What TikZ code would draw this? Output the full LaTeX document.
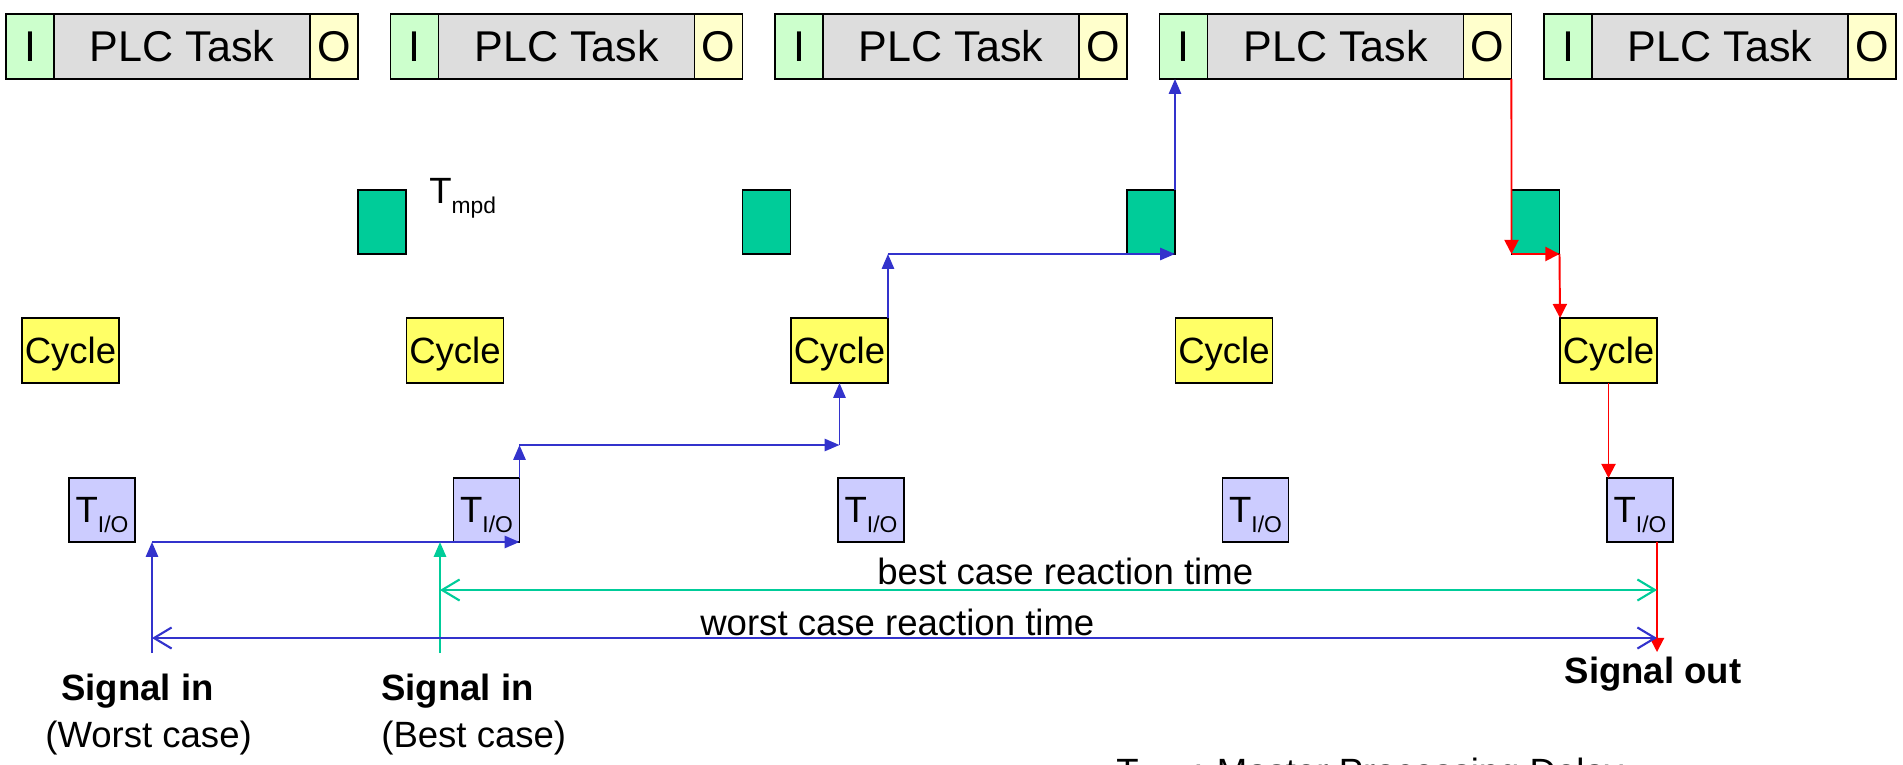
\documentclass[tikz,border=0pt]{standalone}
\usepackage{fontspec}
\setmainfont{Liberation Sans}
\usetikzlibrary{arrows.meta,positioning}

\definecolor{incell}{HTML}{CCFFCC}
\definecolor{taskgray}{HTML}{DDDDDD}
\definecolor{outcell}{HTML}{FFFFCC}
\definecolor{mpdgreen}{HTML}{00CC99}
\definecolor{cycyellow}{HTML}{FFFF66}
\definecolor{tiolav}{HTML}{CCCCFF}
\definecolor{pathblue}{HTML}{3333CC}
\definecolor{pathred}{HTML}{FF0000}
\definecolor{bestteal}{HTML}{00CC99}

% lowered small text for the T_I/O and T_mpd subscripts
\newcommand\tsub[1]{\raisebox{-5.7pt}{\fontsize{13}{14}\selectfont #1}}

\begin{document}
\begin{tikzpicture}[
  x=0.02cm, y=-0.02cm,
  cell/.style      = {draw, line width=0.9pt, inner sep=0pt, outer sep=0pt,
                      minimum height=1.30cm, font=\fontsize{24.5}{26}\selectfont},
  icell/.style     = {cell, fill=incell, minimum width=0.96cm},
  task/.style      = {cell, fill=taskgray, minimum width=5.12cm},
  ocell/.style     = {cell, fill=outcell, minimum width=0.96cm},
  box/.style       = {draw, line width=0.9pt, inner sep=0pt, outer sep=0pt,
                      anchor=north west, text depth=0pt,
                      font=\fontsize{20.8}{22}\selectfont},
  mpdbox/.style    = {box, fill=mpdgreen, minimum width=0.96cm, minimum height=1.28cm},
  cycbox/.style    = {box, fill=cycyellow, minimum width=1.94cm, minimum height=1.30cm},
  tiobox/.style    = {box, fill=tiolav, minimum width=1.32cm, minimum height=1.28cm},
  bluearr/.style   = {pathblue, line width=1.1pt, -{Triangle[length=8.5pt,width=7pt]}},
  redarr/.style    = {pathred, line width=1.1pt, -{Triangle[length=8pt,width=8pt]}},
  bestarr/.style   = {bestteal, line width=1.2pt, -{Triangle[length=8.5pt,width=7pt]}},
  reach/.style     = {line width=1.2pt,
                      {Straight Barb[length=10pt,width=12pt]}-{Straight Barb[length=10pt,width=12pt]}},
  lbl/.style       = {inner sep=0pt, font=\fontsize{20.8}{22}\selectfont},
  sig/.style       = {inner sep=0pt, font=\fontsize{20.8}{22}\selectfont\bfseries},
]
  \path[use as bounding box] (0,0) rectangle (1903,764);
  \clip (0,0) rectangle (1903,764);

  % five PLC task slots along the top, one cycle every 384.5 px
  \foreach \k in {0,...,4} {
    \node[icell, anchor=north west] (i\k) at ({6+384.5*\k},14) {I};
    \node[task, right=0pt of i\k] (t\k) {PLC Task};
    \node[ocell, right=0pt of t\k] (o\k) {O};
    \node[cycbox] (cyc\k) at ({22+384.5*\k},318) {Cycle};
    \node[tiobox] (tio\k) at ({69+384.5*\k},478) {T\tsub{I/O}};
  }
  \foreach \k in {0,...,3}
    \node[mpdbox] (mpd\k) at ({358+384.5*\k},190) {};

  \node[lbl, anchor=base west] (mpdlbl) at (429,203) {T\tsub{mpd}};

  % free ends of the signal lines
  \coordinate (wlow) at (152,653);
  \coordinate (blow) at (440,653);
  \coordinate (sout) at (1657,652);
  \coordinate (step1) at (tio1.north east |- 0,445);
  \coordinate (step2) at (cyc2.north east |- mpd2.south);

  % worst case: signal travels up through one slot
  \draw[bluearr] (wlow) -- (wlow |- tio0.south);
  \draw[bluearr] (wlow |- tio0.south) -- (tio1.south east);
  \draw[bluearr] (tio1.north east) -- (step1);
  \draw[bluearr] (step1) -- (step1 -| cyc2.south);
  \draw[bluearr] (step1 -| cyc2.south) -- (cyc2.south);
  \draw[bluearr] (cyc2.north east) -- (step2);
  \draw[bluearr] (step2) -- (mpd2.south east);
  \draw[bluearr] (mpd2.north east) -- (mpd2.north east |- i3.south);

  % best case in
  \draw[bestarr] (blow) -- (blow |- tio0.south);

  % output path back down
  \draw[redarr] (o3.south east) -- (mpd3.south west);
  \draw[redarr] (mpd3.south west) -- (mpd3.south east);
  \draw[redarr] (mpd3.south east) -- (cyc4.north west);
  \draw[redarr] (cyc4.south) -- (cyc4.south |- tio4.north);
  \draw[redarr] (cyc4.south east |- tio4.south) -- (sout);

  % reaction times
  \draw[reach, bestteal] (blow |- 0,590) -- (sout |- 0,590);
  \draw[reach, pathblue] (wlow |- 0,638) -- (sout |- 0,638);
  \node[lbl, anchor=base west] (bestlbl) at (877,584) {best case reaction time};
  \node[lbl, anchor=base west] (worstlbl) at (700,635) {worst case reaction time};

  \node[sig, anchor=base west] (sigw) at (61,700) {Signal in};
  \node[lbl, anchor=base west] (casew) at (45,747) {(Worst case)};
  \node[sig, anchor=base west] (sigb) at (381,700) {Signal in};
  \node[lbl, anchor=base west] (caseb) at (381,747) {(Best case)};
  \node[sig, anchor=base] (sigo) at (1653,683) {Signal out};

  \node[lbl, anchor=base west] (legend) at (1116,784) {T\tsub{mpd} : Master Processing Delay};
\end{tikzpicture}
\end{document}
